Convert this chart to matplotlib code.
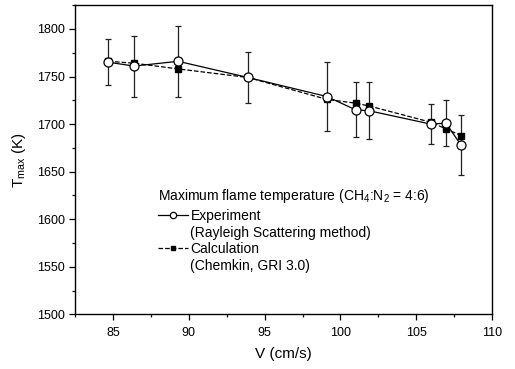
import matplotlib
matplotlib.use("Agg")
import matplotlib.pyplot as plt
from matplotlib.lines import Line2D
from matplotlib.ticker import MultipleLocator

plt.rcParams['font.family'] = ['Liberation Sans', 'DejaVu Sans']
plt.rcParams['mathtext.fontset'] = 'custom'
plt.rcParams['mathtext.rm'] = 'Liberation Sans'
plt.rcParams['mathtext.it'] = 'Liberation Sans'

# flow velocity (cm/s)
velocity = [84.7, 86.4, 89.3, 93.9, 99.1, 101.0, 101.9, 105.95, 106.95, 107.95]
# measured peak temperature (K) and its uncertainty
t_exp = [1765, 1761, 1766, 1749, 1729, 1715, 1714, 1700, 1701, 1678]
t_err = [24, 32, 37, 27, 36, 29, 30, 21, 24, 32]
# computed peak temperature (K)
t_calc = [1766, 1764, 1758, 1749, 1726, 1722, 1719, 1702, 1695, 1688]

fig = plt.figure(figsize=(5.15, 3.69), dpi=100)
ax = fig.add_axes([0.1456, 0.148, 0.81, 0.838])

ax.errorbar(velocity, t_exp, yerr=t_err, fmt='none', ecolor='#222222',
            elinewidth=0.9, capsize=2.5, capthick=0.9, zorder=2)
calc_line, = ax.plot(velocity, t_calc, '--', color='black', lw=0.9,
                     marker='s', ms=5, mfc='black', mec='black', zorder=3)
exp_line, = ax.plot(velocity, t_exp, '-', color='black', lw=0.9,
                    marker='o', ms=6.5, mfc='white', mec='black', mew=0.9,
                    zorder=4)

# legend: second line of each entry gets an empty handle
blank = Line2D([], [], linestyle='none', marker='none')
leg = ax.legend([exp_line, blank, calc_line, blank],
                ['Experiment', '(Rayleigh Scattering method)',
                 'Calculation', '(Chemkin, GRI 3.0)'],
                loc='upper left', bbox_to_anchor=(0.182, 0.434),
                frameon=False, fontsize=10,
                title='Maximum flame temperature (CH$_4$:N$_2$ = 4:6)',
                title_fontsize=10, alignment='left', handlelength=2.2,
                handletextpad=0.15, labelspacing=0.18, markerscale=0.7,
                borderpad=0)
leg._legend_box.sep = 3

ax.set_xlim(82.5, 110)
ax.set_ylim(1500, 1825)
ax.xaxis.set_major_locator(MultipleLocator(5))
ax.xaxis.set_minor_locator(MultipleLocator(2.5))
ax.yaxis.set_major_locator(MultipleLocator(50))
ax.yaxis.set_minor_locator(MultipleLocator(25))
ax.tick_params(which='both', direction='out', top=False, right=False,
               labelsize=9, width=0.9)
ax.tick_params(which='major', length=4)
ax.tick_params(which='minor', length=2.5)
ax.tick_params(axis='x', which='major', pad=5)
for s in ax.spines.values():
    s.set_linewidth(1.0)

ax.set_xlabel('V (cm/s)', fontsize=11, labelpad=6)
ax.set_ylabel('T$_{\\mathregular{max}}$ (K)', fontsize=11, labelpad=6)

fig.savefig('out.png', dpi=100)
